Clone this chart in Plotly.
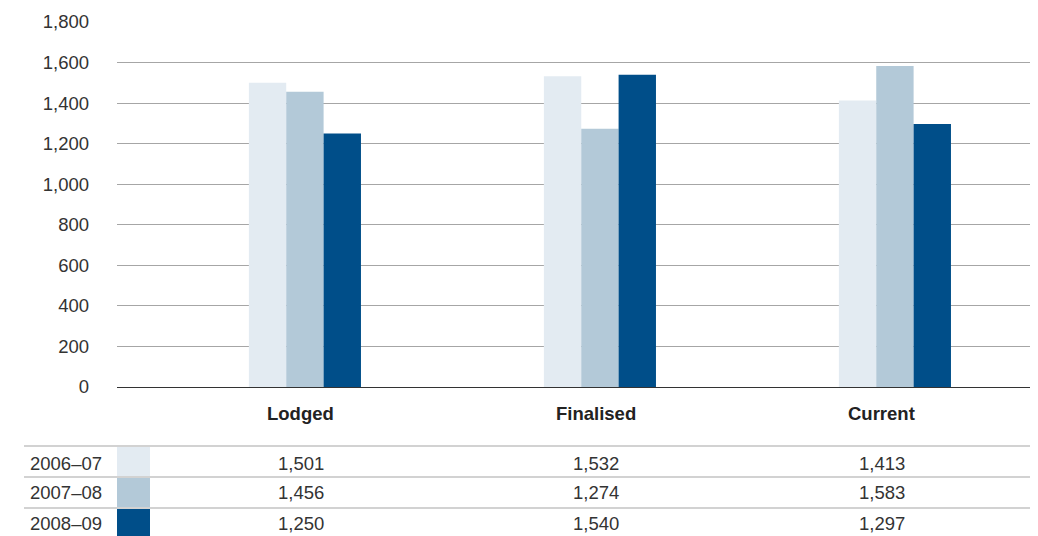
import plotly.graph_objects as go

categories = ["Lodged", "Finalised", "Current"]
series_names = ["2006–07", "2007–08", "2008–09"]
values_2006_07 = [1501, 1532, 1413]
values_2007_08 = [1456, 1274, 1583]
values_2008_09 = [1250, 1540, 1297]
y_ticks = [0, 200, 400, 600, 800, 1000, 1200, 1400, 1600, 1800]

series_values = [values_2006_07, values_2007_08, values_2008_09]
colors = ["#e3ebf2", "#b3c9d8", "#004e89"]
column_shift = [-4, -4, -13]  # table column centres relative to bar groups

OFF = 8  # page body margin
W, H = 1038 - OFF, 536 - OFF
PL, PR, PT, PB = 117, 1038, 22, 387  # plot area in page pixels
ML, MR, MT, MB = PL - OFF, 0, PT - OFF, (536 - PB)
PW = PR - PL
PH = PB - PT

def py(pix):
    return -(pix - PB) / PH

def px(pix):
    return (pix - PL) / PW

FONT = "Liberation Sans, Arial, sans-serif"
TXT = "#333333"
FS = 18.5

fig = go.Figure()
for name, vals, col in zip(series_names, series_values, colors):
    fig.add_trace(go.Bar(x=categories, y=vals, name=name, marker=dict(color=col, line=dict(width=0)),
                         hoverinfo="x+y+name"))

shapes = []
annotations = []
for c, s in zip(categories, column_shift):
    annotations.append(dict(xref="x", yref="paper", x=c, y=py(413), xshift=s,
                            text=f"<b>{c}</b>", showarrow=False, xanchor="center", yanchor="middle",
                            font=dict(family=FONT, size=FS, color="#222222")))
for pix in [446, 477, 508]:
    shapes.append(dict(type="line", xref="paper", yref="paper", x0=px(24), x1=1,
                       y0=py(pix), y1=py(pix), line=dict(color="#a6a6a6", width=1.2)))
row_tops = [447, 478, 509]
row_bots = [476, 507, 536]
row_centers = [463, 493, 523]
for i, (name, vals, col) in enumerate(zip(series_names, series_values, colors)):
    shapes.append(dict(type="rect", xref="paper", yref="paper", x0=0, x1=px(150),
                       y0=py(row_bots[i]), y1=py(row_tops[i]), fillcolor=col, line=dict(width=0)))
    annotations.append(dict(xref="paper", yref="paper", x=px(28), y=py(row_centers[i]),
                            text=name, showarrow=False, xanchor="left", yanchor="middle",
                            font=dict(family=FONT, size=FS, color=TXT)))
    for c, v, s in zip(categories, vals, column_shift):
        annotations.append(dict(xref="x", yref="paper", x=c, y=py(row_centers[i]), xshift=s,
                                text=f"{v:,}", showarrow=False, xanchor="center", yanchor="middle",
                                font=dict(family=FONT, size=FS, color=TXT)))

fig.update_layout(
    width=W, height=H,
    margin=dict(l=ML, r=MR, t=MT, b=MB, pad=0),
    paper_bgcolor="white", plot_bgcolor="white",
    showlegend=False,
    barmode="group", bargap=0.62, bargroupgap=0,
    shapes=shapes, annotations=annotations,
    font=dict(family=FONT, size=FS, color=TXT),
)
fig.update_xaxes(range=[-0.637, 2.485], showgrid=False, showline=False, ticks="",
                 showticklabels=False, fixedrange=True)
fig.update_yaxes(range=[0, 1800], tickvals=y_ticks, ticktext=[f"{t:,}" for t in y_ticks],
                 showgrid=True, gridcolor="#a6a6a6", gridwidth=1.2,
                 zeroline=True, zerolinecolor="#333333", zerolinewidth=1.2,
                 showline=False, ticks="", ticklabelstandoff=27,
                 tickfont=dict(family=FONT, size=FS, color=TXT), fixedrange=True)

fig.write_html("out.html")
